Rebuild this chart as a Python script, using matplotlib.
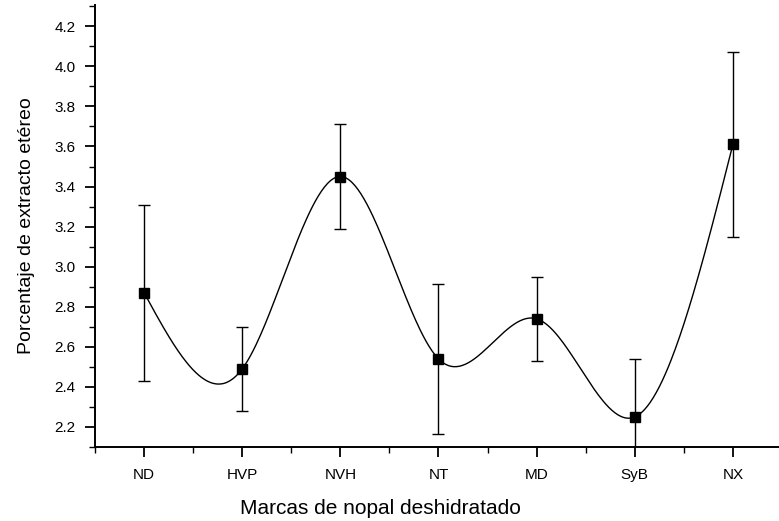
import matplotlib.pyplot as plt
import numpy as np
from matplotlib.ticker import MultipleLocator

plt.rcParams['font.family'] = ['Liberation Sans', 'DejaVu Sans']

# data
marcas = ['ND', 'HVP', 'NVH', 'NT', 'MD', 'SyB', 'NX']
extracto = [2.87, 2.49, 3.45, 2.54, 2.74, 2.25, 3.61]
error = [0.44, 0.21, 0.26, 0.375, 0.21, 0.29, 0.46]

x = np.arange(1, len(marcas) + 1)
y = np.array(extracto)


def natural_spline(xs, ys, n=400):
    # plain natural cubic spline, same idea as the smoothed line in the original
    k = len(xs)
    h = np.diff(xs)
    A = np.zeros((k, k))
    r = np.zeros(k)
    A[0, 0] = A[-1, -1] = 1
    for i in range(1, k - 1):
        A[i, i - 1] = h[i - 1]
        A[i, i] = 2 * (h[i - 1] + h[i])
        A[i, i + 1] = h[i]
        r[i] = 3 * ((ys[i + 1] - ys[i]) / h[i] - (ys[i] - ys[i - 1]) / h[i - 1])
    c = np.linalg.solve(A, r)
    xx = np.linspace(xs[0], xs[-1], n)
    idx = np.clip(np.searchsorted(xs, xx) - 1, 0, k - 2)
    b = (ys[1:] - ys[:-1]) / h - h * (2 * c[:-1] + c[1:]) / 3
    d = (c[1:] - c[:-1]) / (3 * h)
    t = xx - xs[idx]
    yy = ys[idx] + b[idx] * t + c[idx] * t ** 2 + d[idx] * t ** 3
    return xx, yy


fig = plt.figure(figsize=(7.79, 5.21), dpi=100)
ax = fig.add_axes([0.122, 0.142, 0.878, 0.848])

xs, ys = natural_spline(x.astype(float), y)
ax.plot(xs, ys, color='black', lw=1.0)
ax.errorbar(x, y, yerr=error, fmt='s', color='black', ms=7, elinewidth=1.0,
            capsize=4.5, capthick=1.0)

ax.set_xlim(0.5, 7.47)
ax.set_ylim(2.1, 4.305)
ax.set_xticks(x)
ax.set_xticklabels(marcas)
ax.xaxis.set_minor_locator(MultipleLocator(0.5))
ax.yaxis.set_minor_locator(MultipleLocator(0.1))
ax.set_yticks(np.arange(2.2, 4.21, 0.2))
ax.set_yticklabels(['%.1f' % v for v in np.arange(2.2, 4.21, 0.2)])

for s in ['top', 'right']:
    ax.spines[s].set_visible(False)
ax.spines['left'].set_linewidth(1.4)
ax.spines['bottom'].set_linewidth(1.4)
ax.tick_params(which='major', length=7, width=1.3, labelsize=11, direction='out')
ax.tick_params(which='minor', length=4, width=1.0, direction='out')
ax.tick_params(axis='y', pad=7)
ax.tick_params(axis='x', pad=8)

ax.set_ylabel('Porcentaje de extracto etéreo', fontsize=14, labelpad=14)
ax.set_xlabel('Marcas de nopal deshidratado', fontsize=15)
# the original axis ran past the right edge, so the title sits left of centre
ax.xaxis.set_label_coords(0.417, -0.117)

fig.savefig('out.png', dpi=100)
